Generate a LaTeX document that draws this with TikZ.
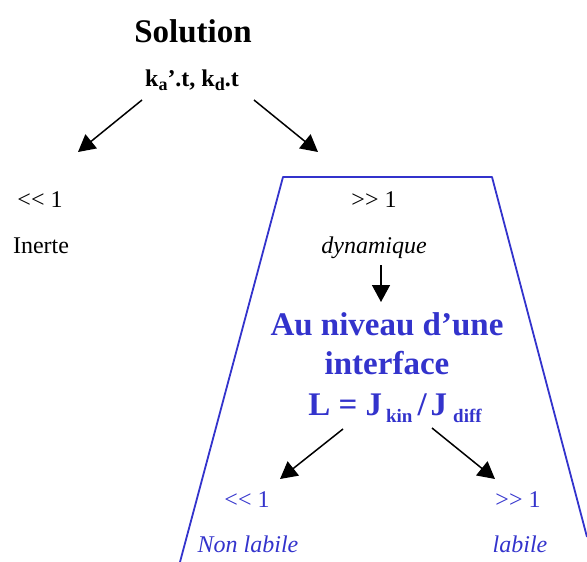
\documentclass[tikz,border=0pt]{standalone}
\usepackage{fontspec}
\setmainfont{Liberation Serif}
\usetikzlibrary{arrows.meta}
\definecolor{ifblue}{RGB}{51,51,204}
\newcommand{\lowsub}[3]{\raisebox{-#3}{\fontsize{#2}{#2}\selectfont #1}}

\begin{document}
\begin{tikzpicture}[
  x=1pt,y=-1pt,
  big/.style={font=\fontsize{33}{36}\selectfont\bfseries,inner sep=0pt,anchor=base},
  kin/.style={font=\fontsize{24}{26}\selectfont\bfseries,inner sep=0pt,anchor=base},
  txt/.style={font=\fontsize{24}{26}\selectfont,inner sep=0pt,anchor=base},
  emph/.style={font=\fontsize{24}{26}\selectfont\itshape,inner sep=0pt,anchor=base},
  arr/.style={-{Triangle[length=17pt,width=18pt]},line width=1.5pt},
  wall/.style={ifblue,line width=1.8pt,line join=round}
]
\useasboundingbox (0,0) rectangle (587,562);
% interface region
\draw[wall] (180,562) -- (283,177) -- (492,177) -- (587,537);
% top: solution
\node[big] (sol) at (193,42) {Solution};
\node[kin] (kt) at (192,86) {k\lowsub{a}{18pt}{4pt}’.t, k\lowsub{d}{18pt}{4pt}.t};
% left branch
\node[txt] (lo) at (40,207) {<{}< 1};
\node[txt] (inerte) at (41,253) {Inerte};
% right branch
\node[txt] (hi) at (374,207) {>{}> 1};
\node[emph] (dyn) at (374,253) {dynamique};
\node[big,ifblue] (au) at (387,335) {Au niveau d’une};
\node[big,ifblue] (itf) at (387,374) {interface};
\node[big,ifblue] (lj) at (395,415) {L = J\hspace{4pt}\lowsub{kin}{19pt}{7pt}\hspace{5pt}/\hspace{4pt}J\hspace{6pt}\lowsub{diff}{19pt}{7pt}};
\node[txt,ifblue] (lo2) at (247,507) {<{}< 1};
\node[txt,ifblue] (hi2) at (518,507) {>{}> 1};
\node[emph,ifblue] (nonlab) at (248,552) {Non labile};
\node[emph,ifblue] (lab) at (520,552) {labile};
% arrow ends
\coordinate (a1) at (142,100);
\coordinate (b1) at (78,152);
\coordinate (a2) at (254,100);
\coordinate (b2) at (318,152);
\coordinate (a3) at (381,265);
\coordinate (b3) at (381,302);
\coordinate (a4) at (343,429);
\coordinate (b4) at (280,479);
\coordinate (a5) at (432,428);
\coordinate (b5) at (495,479);
\foreach \s/\t in {a1/b1,a2/b2,a3/b3,a4/b4,a5/b5}{
  \draw[arr] (\s) -- (\t);
}
\end{tikzpicture}
\end{document}
